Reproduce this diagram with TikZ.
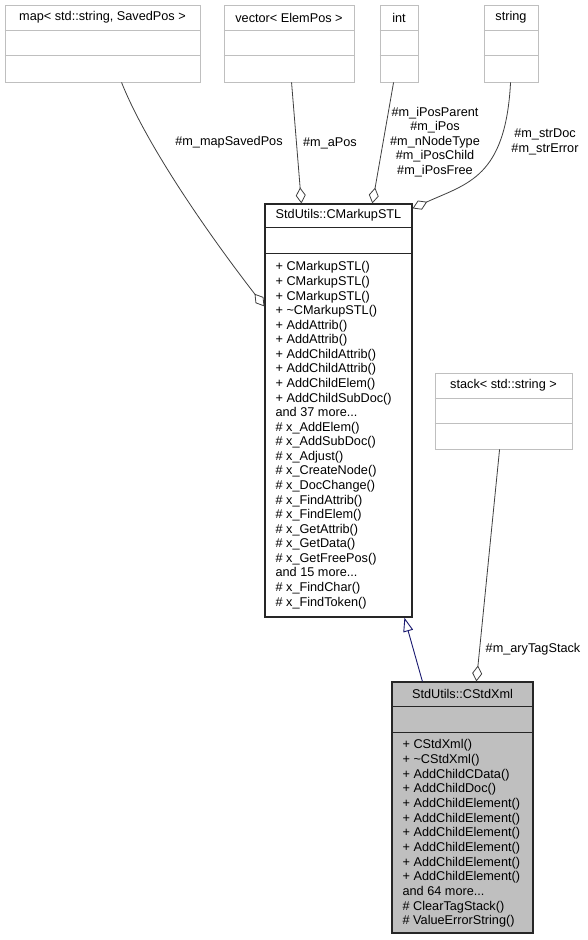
\documentclass[tikz,border=0pt]{standalone}
\usepackage{fontspec}
\setmainfont{Liberation Sans}
\usetikzlibrary{arrows.meta, calc, fit, positioning}
\definecolor{edgegrey}{HTML}{404040}
\definecolor{boxgrey}{HTML}{BFBFBF}
\definecolor{inherit}{HTML}{191970}
\newcommand{\andmore}[1]{and #1 more...}
\tikzstyle{ext} = [rectangle, draw=boxgrey, line width=0.9pt, inner sep=0pt]
\tikzstyle{cls} = [rectangle, draw=black!85, line width=1.2pt, inner sep=0pt]
\tikzstyle{clstitle} = [font=\fontsize{12.7}{14.6}\selectfont, inner sep=0pt]
\tikzstyle{member} = [font=\fontsize{12.7}{14.6}\selectfont, anchor=base west, inner sep=0pt]
\tikzstyle{lbl} = [font=\fontsize{12.7}{14.6}\selectfont, align=center, inner sep=0pt]
\tikzstyle{uses} = [draw=edgegrey, line width=0.8pt, -{Diamond[open, length=16pt, width=10pt, line width=0.8pt]}]
\tikzstyle{derive} = [draw=inherit, line width=0.9pt, -{Triangle[open, length=14pt, width=10pt, line width=0.9pt]}]

\begin{document}
\begin{tikzpicture}[x=1pt, y=-1pt]
	\fill[white] (0,0) rectangle (588,940);
	% outer classes
	\node (map) [ext, fit={(5,5) (200,82)}] {};
	\node (vector) [ext, fit={(224,5) (354,82)}] {};
	\node (int) [ext, fit={(380,5) (418,82)}] {};
	\node (string) [ext, fit={(484,5) (538,82)}] {};
	\node (stack) [ext, fit={(435,373) (572,449)}] {};
	\foreach \b in {map, vector, int, string, stack}
		\draw[boxgrey, line width=0.9pt] ($(\b.north west)+(0,25.5)$) -- ($(\b.north east)+(0,25.5)$)
			($(\b.north west)+(0,51)$) -- ($(\b.north east)+(0,51)$);
	\node (mapTitle) [clstitle] at ($(map.north)+(0,13)$) {map< std::string, SavedPos >};
	\node (vectorTitle) [clstitle] at ($(vector.north)+(0,13)$) {vector< ElemPos >};
	\node (intTitle) [clstitle] at ($(int.north)+(0,13)$) {int};
	\node (stringTitle) [clstitle] at ($(string.north)+(0,13)$) {string};
	\node (stackTitle) [clstitle] at ($(stack.north)+(0,12.5)$) {stack< std::string >};
	% StdUtils::CMarkupSTL
	\node (markup) [cls, fit={(265,204) (412,617)}] {};
	\draw[black!85, line width=1.2pt] ($(markup.north west)+(0,24)$) -- ($(markup.north east)+(0,24)$)
		($(markup.north west)+(0,50)$) -- ($(markup.north east)+(0,50)$);
	\node (markupTitle) [clstitle] at ($(markup.north)+(0,12)$) {StdUtils::CMarkupSTL};
	\foreach \m [count=\i] in {+ CMarkupSTL(), + CMarkupSTL(), + CMarkupSTL(), + \textasciitilde CMarkupSTL(),
		+ AddAttrib(), + AddAttrib(), + AddChildAttrib(), + AddChildAttrib(), + AddChildElem(),
		+ AddChildSubDoc(), \andmore{37}, \# x\_AddElem(), \# x\_AddSubDoc(), \# x\_Adjust(),
		\# x\_CreateNode(), \# x\_DocChange(), \# x\_FindAttrib(), \# x\_FindElem(), \# x\_GetAttrib(),
		\# x\_GetData(), \# x\_GetFreePos(), \andmore{15}, \# x\_FindChar(), \# x\_FindToken()}
		\node (markup-\i) [member] at ($(markup.north west)+(11,{67.5+(\i-1)*14.57})$) {\m};
	% StdUtils::CStdXml
	\node (xml) [cls, fill=boxgrey, fit={(392,682) (533,933)}] {};
	\draw[black!85, line width=1.2pt] ($(xml.north west)+(0,25)$) -- ($(xml.north east)+(0,25)$)
		($(xml.north west)+(0,51)$) -- ($(xml.north east)+(0,51)$);
	\node (xmlTitle) [clstitle] at ($(xml.north)+(0,12.5)$) {StdUtils::CStdXml};
	\foreach \m [count=\i] in {+ CStdXml(), + \textasciitilde CStdXml(), + AddChildCData(), + AddChildDoc(),
		+ AddChildElement(), + AddChildElement(), + AddChildElement(), + AddChildElement(),
		+ AddChildElement(), + AddChildElement(), \andmore{64}, \# ClearTagStack(), \# ValueErrorString()}
		\node (xml-\i) [member] at ($(xml.north west)+(11,{67.5+(\i-1)*14.65})$) {\m};
	% members
	\draw [uses] ($(map.south west)+(117,0)$) .. controls +(30,75) and +(-35,-45) .. ($(markup.north west)+(0,103)$);
	\draw [uses] ($(vector.south west)+(68,0)$) -- ($(markup.north west)+(37,0)$);
	\draw [uses] ($(int.south west)+(14,0)$) -- ($(markup.north west)+(108,0)$);
	\draw [uses] ($(string.south west)+(27,0)$) .. controls +(-5,95) and +(55,-25) .. ($(markup.north east)+(0,5)$);
	\draw [uses] ($(stack.south west)+(65,0)$) -- ($(xml.north west)+(85,0)$);
	\draw [derive] ($(xml.north west)+(31,0)$) -- ($(markup.south west)+(140,0)$);
	% labels
	\node (mapLbl) [lbl] at (229,142) {\#m\_mapSavedPos};
	\node (aPosLbl) [lbl] at (330,143) {\#m\_aPos};
	\node (intLbl) [lbl] at (435,142) {\#m\_iPosParent\\\#m\_iPos\\\#m\_nNodeType\\\#m\_iPosChild\\\#m\_iPosFree};
	\node (stringLbl) [lbl] at (545,142) {\#m\_strDoc\\\#m\_strError};
	\node (stackLbl) [lbl] at (533,649) {\#m\_aryTagStack};
\end{tikzpicture}
\end{document}
